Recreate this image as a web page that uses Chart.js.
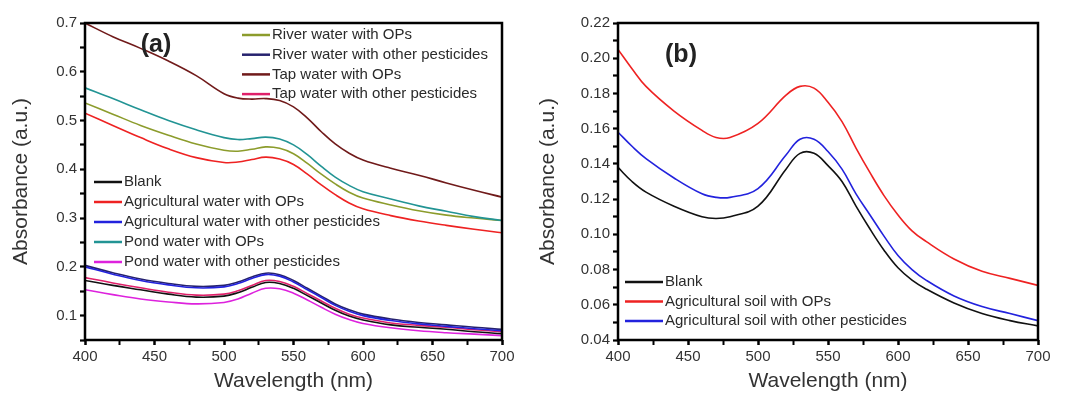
<!DOCTYPE html>
<html>
<head>
<meta charset="utf-8">
<script src="https://cdn.jsdelivr.net/npm/chart.js@4.4.1/dist/chart.umd.min.js"></script>
<style>
  html, body { margin: 0; padding: 0; background: #fff; }
  #wrap { position: relative; width: 1065px; height: 400px; }
  .panel { position: absolute; top: 0; height: 400px; }
  #boxA { left: 0; width: 530px; }
  #boxB { left: 530px; width: 535px; }
</style>
</head>
<body>
<div id="wrap">
  <div class="panel" id="boxA"><canvas id="chartA"></canvas></div>
  <div class="panel" id="boxB"><canvas id="chartB"></canvas></div>
</div>
<script>
// panel (a): water samples
const wavelengthA = [400, 420, 440, 460, 480, 500, 510, 520, 530, 540, 550, 560, 570, 580, 590, 600, 620, 640, 660, 680, 700];
const blankA      = [0.172, 0.162, 0.153, 0.144, 0.138, 0.140, 0.147, 0.158, 0.168, 0.166, 0.156, 0.141, 0.126, 0.111, 0.099, 0.091, 0.081, 0.076, 0.072, 0.067, 0.063];
const agriOpsA    = [0.515, 0.490, 0.465, 0.442, 0.424, 0.414, 0.415, 0.420, 0.425, 0.421, 0.410, 0.390, 0.368, 0.348, 0.331, 0.319, 0.305, 0.294, 0.285, 0.277, 0.270];
const agriOtherA  = [0.200, 0.185, 0.172, 0.163, 0.157, 0.159, 0.166, 0.176, 0.184, 0.181, 0.169, 0.153, 0.137, 0.121, 0.109, 0.100, 0.090, 0.083, 0.078, 0.073, 0.069];
const pondOpsA    = [0.567, 0.545, 0.522, 0.500, 0.481, 0.465, 0.461, 0.463, 0.466, 0.462, 0.450, 0.430, 0.406, 0.384, 0.367, 0.354, 0.339, 0.325, 0.314, 0.303, 0.295];
const pondOtherA  = [0.153, 0.143, 0.134, 0.128, 0.124, 0.127, 0.134, 0.146, 0.156, 0.155, 0.146, 0.132, 0.117, 0.103, 0.092, 0.084, 0.075, 0.069, 0.065, 0.062, 0.059];
const riverOpsA   = [0.536, 0.513, 0.490, 0.470, 0.452, 0.439, 0.437, 0.441, 0.446, 0.443, 0.432, 0.412, 0.390, 0.370, 0.353, 0.341, 0.327, 0.315, 0.306, 0.300, 0.295];
const riverOtherA = [0.203, 0.188, 0.175, 0.166, 0.160, 0.162, 0.169, 0.179, 0.187, 0.184, 0.172, 0.156, 0.140, 0.124, 0.112, 0.103, 0.093, 0.086, 0.081, 0.076, 0.072];
const tapOpsA     = [0.700, 0.672, 0.648, 0.622, 0.592, 0.555, 0.546, 0.544, 0.545, 0.541, 0.528, 0.505, 0.477, 0.452, 0.433, 0.419, 0.402, 0.388, 0.372, 0.357, 0.343];
const tapOtherA   = [0.178, 0.167, 0.157, 0.148, 0.142, 0.144, 0.151, 0.162, 0.172, 0.170, 0.160, 0.145, 0.130, 0.115, 0.103, 0.095, 0.085, 0.080, 0.076, 0.071, 0.067];

// panel (b): soil samples
const wavelengthB = [400, 410, 420, 440, 460, 470, 480, 500, 520, 530, 540, 550, 560, 570, 580, 590, 600, 610, 620, 640, 660, 680, 700];
const blankB      = [0.138, 0.130, 0.124, 0.116, 0.110, 0.109, 0.110, 0.116, 0.137, 0.146, 0.146, 0.139, 0.130, 0.116, 0.103, 0.091, 0.081, 0.074, 0.069, 0.061, 0.055, 0.051, 0.048];
const soilOpsB    = [0.205, 0.194, 0.184, 0.170, 0.159, 0.155, 0.155, 0.163, 0.179, 0.184, 0.183, 0.175, 0.164, 0.149, 0.135, 0.122, 0.111, 0.102, 0.096, 0.086, 0.079, 0.075, 0.071];
const soilOtherB  = [0.158, 0.150, 0.143, 0.132, 0.123, 0.121, 0.121, 0.126, 0.145, 0.154, 0.154, 0.147, 0.137, 0.123, 0.111, 0.099, 0.088, 0.080, 0.074, 0.065, 0.059, 0.055, 0.051];

const seriesA = [
  ['Blank', blankA, '#111111'],
  ['Agricultural water with OPs', agriOpsA, '#ee2222'],
  ['Agricultural water with other pesticides', agriOtherA, '#2222dd'],
  ['Pond water with OPs', pondOpsA, '#229494'],
  ['Pond water with other pesticides', pondOtherA, '#dd22dd'],
  ['River water with OPs', riverOpsA, '#8c9c2c'],
  ['River water with other pesticides', riverOtherA, '#26226e'],
  ['Tap water with OPs', tapOpsA, '#701a1a'],
  ['Tap water with other pesticides', tapOtherA, '#e0206a']
];
const seriesB = [
  ['Blank', blankB, '#111111'],
  ['Agricultural soil with OPs', soilOpsB, '#ee2222'],
  ['Agricultural soil with other pesticides', soilOtherB, '#2222dd']
];

const FONT = "'Liberation Sans', Arial, sans-serif";

function toPoints(xs, ys) {
  return xs.map((x, i) => ({ x: x, y: ys[i] }));
}

// box around plot area
const framePlugin = {
  id: 'frame',
  afterDatasetsDraw(chart) {
    const { left, top, right, bottom } = chart.chartArea;
    const ctx = chart.ctx;
    ctx.save();
    ctx.lineWidth = 2.5;
    ctx.strokeStyle = '#000';
    ctx.strokeRect(left, top, right - left, bottom - top);
    ctx.restore();
  }
};

// panel letter + legend groups drawn inside the plot
const notesPlugin = {
  id: 'notes',
  afterDraw(chart, args, opts) {
    const ctx = chart.ctx;
    ctx.save();
    ctx.fillStyle = '#222';
    ctx.font = 'bold 25px ' + FONT;
    ctx.textAlign = 'center';
    ctx.textBaseline = 'middle';
    ctx.fillText(opts.tag, opts.tagX, opts.tagY);
    ctx.font = '15px ' + FONT;
    ctx.textAlign = 'left';
    opts.groups.forEach(g => {
      g.items.forEach((idx, k) => {
        const ds = chart.data.datasets[idx];
        const y = g.y + k * g.step;
        ctx.strokeStyle = ds.borderColor;
        ctx.lineWidth = 2.5;
        ctx.beginPath();
        ctx.moveTo(g.x, y);
        ctx.lineTo(g.x + g.len, y);
        ctx.stroke();
        ctx.fillStyle = '#2a2a2a';
        ctx.fillText(ds.label, g.x + g.len + 2, y);
      });
    });
    ctx.restore();
  }
};

function makeChart(id, xs, series, yOpts, notes, yWidth, rightPad) {
  const datasets = series.map(s => ({
    label: s[0],
    data: toPoints(xs, s[1]),
    borderColor: s[2],
    backgroundColor: s[2],
    borderWidth: 1.6,
    pointRadius: 0,
    tension: 0.4,
    fill: false
  }));
  return new Chart(document.getElementById(id), {
    type: 'line',
    data: { datasets: datasets },
    plugins: [framePlugin, notesPlugin],
    options: {
      responsive: true,
      maintainAspectRatio: false,
      animation: false,
      layout: { padding: { top: 23, right: rightPad, left: 0, bottom: 0 } },
      plugins: {
        legend: { display: false },
        tooltip: { enabled: false },
        notes: notes
      },
      scales: {
        x: {
          type: 'linear',
          min: 400,
          max: 700,
          afterFit: s => { s.height = 60; },
          border: { display: false },
          grid: {
            drawOnChartArea: false,
            tickLength: 5,
            tickColor: '#000',
            tickWidth: c => (c.tick && c.tick.value % 50 === 0) ? 2.5 : 2
          },
          ticks: {
            stepSize: 25,
            padding: 3,
            color: '#333',
            font: { family: FONT, size: 15 },
            maxRotation: 0,
            autoSkip: false,
            callback: v => (v % 50 === 0 ? v : '')
          },
          title: {
            display: true,
            text: 'Wavelength (nm)',
            color: '#333',
            font: { family: FONT, size: 21 },
            padding: { top: 0, bottom: 6 }
          }
        },
        y: {
          min: yOpts.min,
          max: yOpts.max,
          afterFit: s => { s.width = yWidth; },
          border: { display: false },
          grid: {
            drawOnChartArea: false,
            tickLength: 5,
            tickColor: '#000',
            tickWidth: 2.2
          },
          ticks: {
            stepSize: yOpts.step,
            padding: 3,
            color: '#333',
            font: { family: FONT, size: 15 },
            autoSkip: false,
            callback: yOpts.label
          },
          title: {
            display: true,
            text: 'Absorbance (a.u.)',
            color: '#333',
            font: { family: FONT, size: 21 },
            padding: { top: yOpts.titlePad, bottom: 0 }
          }
        }
      }
    }
  });
}

makeChart('chartA', wavelengthA, seriesA, {
  min: 0.05, max: 0.7, step: 0.05, titlePad: 9,
  label: v => (Math.round(v * 100) % 10 === 0 ? v.toFixed(1) : '')
}, {
  tag: '(a)', tagX: 156, tagY: 45,
  groups: [
    { items: [5, 6, 7, 8], x: 242, y: 35, step: 19.7, len: 28 },
    { items: [0, 1, 2, 3, 4], x: 94, y: 182, step: 20, len: 28 }
  ]
}, 85, 28);

makeChart('chartB', wavelengthB, seriesB, {
  min: 0.04, max: 0.22, step: 0.01, titlePad: 6,
  label: v => (Math.round(v * 100) % 2 === 0 ? v.toFixed(2) : '')
}, {
  tag: '(b)', tagX: 151, tagY: 55,
  groups: [
    { items: [0, 1, 2], x: 95, y: 282, step: 19.5, len: 38 }
  ]
}, 88, 27);
</script>
</body>
</html>
